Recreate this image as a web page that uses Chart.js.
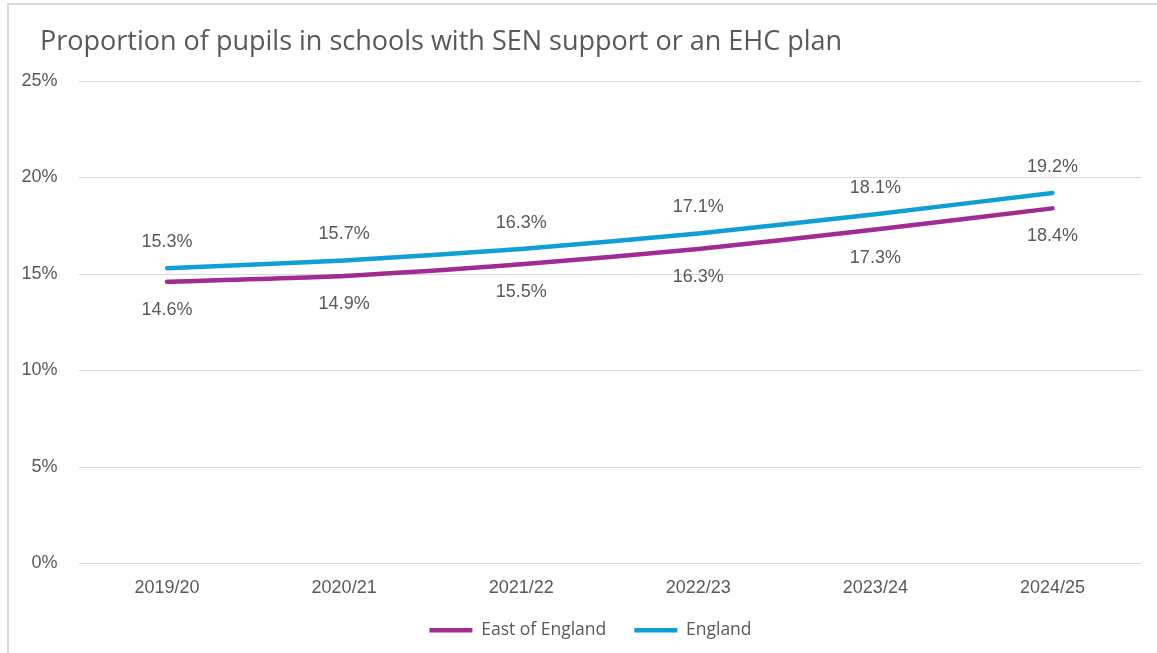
<!DOCTYPE html>
<html>
<head>
<meta charset="utf-8">
<title>SEN support chart</title>
<script src="https://cdn.jsdelivr.net/npm/chart.js@4.4.1/dist/chart.umd.min.js"></script>
<style>
  body { margin: 0; background: #fff; }
  #wrap { position: relative; width: 1157px; height: 653px; overflow: hidden; }
  #frame {
    position: absolute; left: 7px; top: 3px; width: 1200px; height: 700px;
    border-left: 2px solid #d9d9d9; border-top: 2px solid #d9d9d9;
    pointer-events: none;
  }
  canvas { position: absolute; left: 0; top: 0; }
</style>
</head>
<body>
<div id="wrap">
  <canvas id="myChart" width="1157" height="653"></canvas>
  <div id="frame"></div>
</div>
<script>
// データ
const years = ['2019/20', '2020/21', '2021/22', '2022/23', '2023/24', '2024/25'];
const eastOfEngland = [14.6, 14.9, 15.5, 16.3, 17.3, 18.4];
const england = [15.3, 15.7, 16.3, 17.1, 18.1, 19.2];
const yTicks = [0, 5, 10, 15, 20, 25];

const greyText = '#595959';
const tickFont = "'Liberation Sans', Arial, sans-serif";
const titleFont = "'Open Sans', sans-serif";

// ラベルを点の上/下に描く (labelOffset は dataset ごと)
const pointLabels = {
  id: 'pointLabels',
  afterLayout(chart) {
    // タイトルと凡例は左から40pxずらす（y軸ラベルは切れないように）
    chart.titleBlock.left = 40;
    chart.legend.left = 40;
  },
  afterDatasetsDraw(chart) {
    var ctx = chart.ctx;
    ctx.save();
    ctx.font = '18px ' + tickFont;
    ctx.fillStyle = greyText;
    ctx.textAlign = 'center';
    ctx.textBaseline = 'middle';
    chart.data.datasets.forEach(function(ds, i) {
      var meta = chart.getDatasetMeta(i);
      meta.data.forEach(function(pt, j) {
        ctx.fillText(ds.data[j].toFixed(1) + '%', pt.x, pt.y + ds.labelOffset);
      });
    });
    ctx.restore();
  }
};

var ctx = document.getElementById('myChart').getContext('2d');
var chart = new Chart(ctx, {
  type: 'line',
  data: {
    labels: years,
    datasets: [
      {
        label: 'East of England',
        data: eastOfEngland,
        borderColor: '#A02B93',
        backgroundColor: '#A02B93',
        borderWidth: 4.5,
        borderCapStyle: 'round',
        pointRadius: 0,
        tension: 0.2,
        labelOffset: 28
      },
      {
        label: 'England',
        data: england,
        borderColor: '#0F9ED5',
        backgroundColor: '#0F9ED5',
        borderWidth: 4.5,
        borderCapStyle: 'round',
        pointRadius: 0,
        tension: 0.2,
        labelOffset: -26
      }
    ]
  },
  options: {
    responsive: false,
    animation: false,
    layout: { padding: { left: 10, right: 16, top: 0, bottom: 4 } },
    plugins: {
      title: {
        display: true,
        text: 'Proportion of pupils in schools with SEN support or an EHC plan',
        align: 'start',
        color: greyText,
        font: { family: titleFont, size: 27, weight: 'normal' },
        padding: { top: 26, bottom: 22.6 }
      },
      legend: {
        position: 'bottom',
        labels: {
          usePointStyle: true,
          pointStyle: 'line',
          pointStyleWidth: 43,
          color: greyText,
          font: { family: titleFont, size: 17.5 },
          padding: 28
        }
      },
      tooltip: { enabled: false }
    },
    scales: {
      x: {
        offset: true,
        grid: { display: false },
        border: { display: false },
        ticks: { color: greyText, font: { family: tickFont, size: 18 }, padding: 6 },
        afterFit: function(scale) { scale.height = 30; }
      },
      y: {
        min: 0,
        max: 25,
        afterBuildTicks: function(scale) {
          scale.ticks = yTicks.map(function(v) { return { value: v }; });
        },
        grid: { color: '#d9d9d9', lineWidth: 1, drawTicks: false },
        border: { display: false },
        ticks: {
          color: greyText,
          font: { family: tickFont, size: 18 },
          padding: 21,
          callback: function(v) { return v + '%'; }
        },
        afterFit: function(scale) { scale.width = 68.5; }
      }
    }
  },
  plugins: [pointLabels]
});
</script>
</body>
</html>
